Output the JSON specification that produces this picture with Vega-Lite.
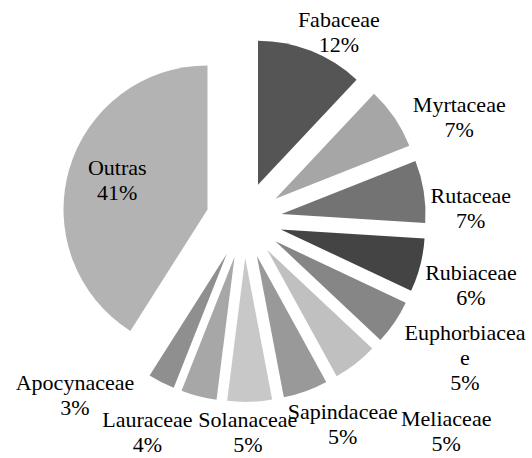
{
  "$schema": "https://vega.github.io/schema/vega-lite/v6.json",
  "width": 488,
  "height": 440,
  "autosize": {"type": "none"},
  "padding": {"left": 0, "top": 0, "right": 44, "bottom": 18},
  "background": "white",
  "config": {"view": {"stroke": null}},
  "data": {
    "values": [
      {"familia": "Fabaceae", "pct": 12, "rotulo": "Fabaceae\n12%"},
      {"familia": "Myrtaceae", "pct": 7, "rotulo": "Myrtaceae\n7%"},
      {"familia": "Rutaceae", "pct": 7, "rotulo": "Rutaceae\n7%"},
      {"familia": "Rubiaceae", "pct": 6, "rotulo": "Rubiaceae\n6%"},
      {"familia": "Euphorbiaceae", "pct": 5, "rotulo": "Euphorbiacea\ne\n5%"},
      {"familia": "Meliaceae", "pct": 5, "rotulo": "Meliaceae\n5%"},
      {"familia": "Sapindaceae", "pct": 5, "rotulo": "Sapindaceae\n5%"},
      {"familia": "Solanaceae", "pct": 5, "rotulo": "Solanaceae\n5%"},
      {"familia": "Lauraceae", "pct": 4, "rotulo": "Lauraceae\n4%"},
      {"familia": "Apocynaceae", "pct": 3, "rotulo": "Apocynaceae\n3%"},
      {"familia": "Outras", "pct": 41, "rotulo": "Outras\n41%"}
    ]
  },
  "transform": [{"stack": "pct", "groupby": [], "as": ["p0", "p1"]}],
  "layer": [
    {
      "mark": {
        "type": "arc",
        "outerRadius": 144,
        "x": {"expr": "width/2 + 38*sin(PI*(datum.p0+datum.p1)/100)"},
        "y": {"expr": "height/2 - 38*cos(PI*(datum.p0+datum.p1)/100)"}
      },
      "encoding": {
        "theta": {"field": "p0", "type": "quantitative", "stack": null, "scale": {"domain": [0, 100], "range": [0, 6.283185307179586]}},
        "theta2": {"field": "p1"},
        "color": {
          "field": "familia",
          "type": "nominal",
          "legend": null,
          "scale": {
            "domain": ["Fabaceae", "Myrtaceae", "Rutaceae", "Rubiaceae", "Euphorbiaceae", "Meliaceae", "Sapindaceae", "Solanaceae", "Lauraceae", "Apocynaceae", "Outras"],
            "range": ["#555555", "#a6a6a6", "#737373", "#444444", "#868686", "#c0c0c0", "#999999", "#c8c8c8", "#a7a7a7", "#8f8f8f", "#b3b3b3"]
          }
        }
      }
    },
    {
      "mark": {
        "type": "text",
        "font": "Liberation Serif",
        "fontSize": 22,
        "lineHeight": 25,
        "lineBreak": "\n",
        "align": "center",
        "baseline": "middle",
        "color": "#000000"
      },
      "encoding": {
        "text": {"field": "rotulo", "type": "nominal"},
        "theta": {
          "field": "p1", "type": "quantitative", "stack": null,
          "scale": {
            "domain": [12, 19, 26, 32, 37, 42, 47, 52, 56, 59, 100],
            "range": [0.4433, 1.0804, 1.4661, 1.7994, 2.042, 2.3492, 2.6669, 3.1224, 3.5919, 3.9444, 5.1016]
          }
        },
        "radius": {
          "field": "p1", "type": "quantitative",
          "scale": {
            "type": "linear", "zero": false,
            "domain": [12, 19, 26, 32, 37, 42, 47, 52, 56, 59, 100],
            "range": [221, 244, 228, 233, 248, 284, 216, 200, 222, 235, 137]
          }
        }
      }
    }
  ],
  "resolve": {"scale": {"theta": "independent"}}
}
